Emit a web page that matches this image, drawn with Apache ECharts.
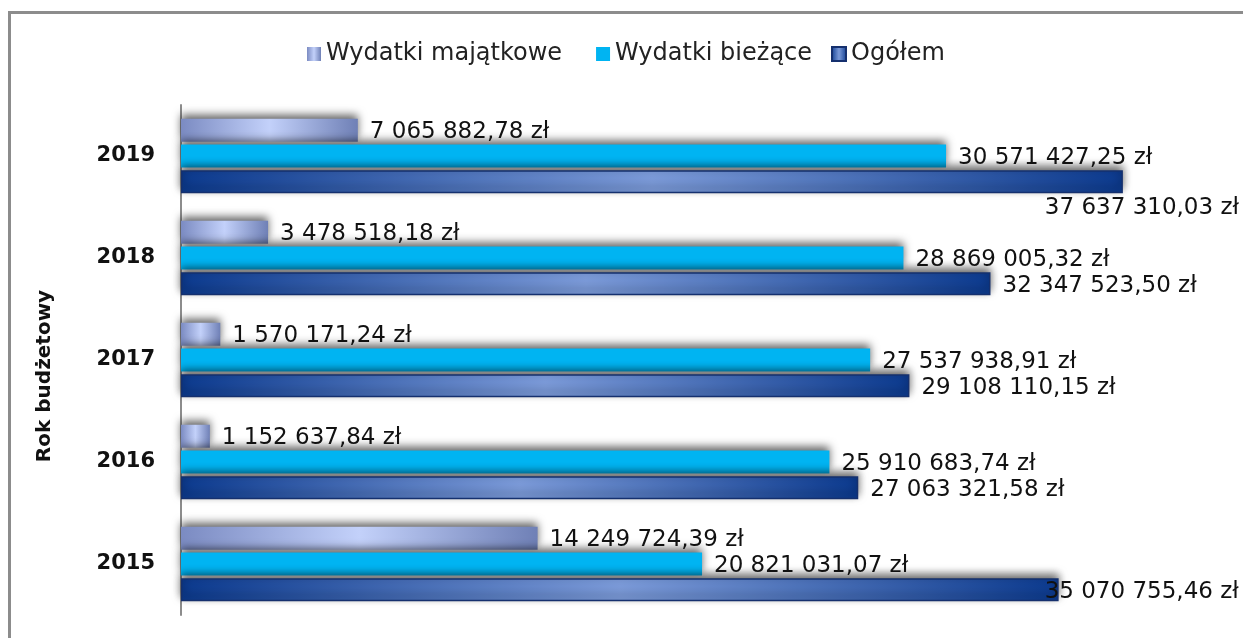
<!DOCTYPE html>
<html>
<head>
<meta charset="utf-8">
<script src="https://cdn.jsdelivr.net/npm/echarts@6/dist/echarts.min.js"></script>
<style>
  html, body { margin: 0; padding: 0; background: #fff; }
  #chart { width: 1243px; height: 638px; }
</style>
</head>
<body>
<div id="chart"></div>
<script>
// Data
const years = ['2015', '2016', '2017', '2018', '2019'];
const majatkowe = [14249724.39, 1152637.84, 1570171.24, 3478518.18, 7065882.78];
const biezace = [20821031.07, 25910683.74, 27537938.91, 28869005.32, 30571427.25];
const ogolem = [35070755.46, 27063321.58, 29108110.15, 32347523.50, 37637310.03];

const FONT = 'DejaVu Sans';

// 12345678.9 -> "12 345 678,90 zł"
function formatZl(v) {
    const parts = v.toFixed(2).split('.');
    const intPart = parts[0].replace(/\B(?=(\d{3})+(?!\d))/g, ' ');
    return intPart + ',' + parts[1] + ' zł';
}

const chart = echarts.init(document.getElementById('chart'));

const labelStyle = {
    show: true,
    position: 'right',
    distance: 12,
    offset: [0, 2],
    color: '#111',
    fontFamily: FONT,
    fontSize: 23,
    formatter: p => formatZl(p.value)
};

const shadow = {
    shadowColor: 'rgba(0, 0, 0, 0.6)',
    shadowBlur: 8,
    shadowOffsetY: -4
};

const majGradient = new echarts.graphic.LinearGradient(0, 0, 1, 0, [
    { offset: 0, color: '#7b8bc2' },
    { offset: 0.5, color: '#c3d1fa' },
    { offset: 1, color: '#6f80b6' }
]);
const ogGradient = new echarts.graphic.LinearGradient(0, 0, 1, 0, [
    { offset: 0, color: '#0c3a8e' },
    { offset: 0.5, color: '#7b9ad8' },
    { offset: 1, color: '#0c3a8e' }
]);

// Ogółem labels near the right edge were pushed inward in the original
const ogolemData = ogolem.map((v, i) => {
    if (i === 4) return { value: v, label: { offset: [-90, 26] } };
    if (i === 0) return { value: v, label: { offset: [-26, 2] } };
    return v;
});

const legendText = { fontFamily: FONT, fontSize: 24, color: '#222' };

const option = {
    animation: false,
    graphic: [{
        type: 'rect',
        shape: { x: 9.5, y: 12.5, width: 1300, height: 700 },
        style: { fill: 'none', stroke: '#8c8c8c', lineWidth: 3 },
        silent: true
    }],
    legend: [
        {
            top: 37,
            left: 302,
            icon: 'rect',
            itemWidth: 14,
            itemHeight: 14,
            itemGap: 34,
            textStyle: legendText,
            data: ['Wydatki majątkowe', 'Wydatki bieżące']
        },
        {
            top: 37,
            left: 826,
            icon: 'rect',
            itemWidth: 14,
            itemHeight: 14,
            textStyle: legendText,
            data: ['Ogółem']
        }
    ],
    grid: { left: 181, right: 61, top: 105, bottom: 23 },
    xAxis: {
        type: 'value',
        min: 0,
        max: 40000000,
        show: false
    },
    yAxis: {
        type: 'category',
        data: years,
        name: 'Rok budżetowy',
        nameLocation: 'middle',
        nameRotate: 90,
        nameGap: 126,
        nameTextStyle: { fontFamily: FONT, fontSize: 20, fontWeight: 'bold', color: '#111', padding: [0, 32, 0, 0] },
        axisLine: { lineStyle: { color: '#8c8c8c', width: 2 } },
        axisTick: { show: false },
        axisLabel: { fontFamily: FONT, fontSize: 21, fontWeight: 'bold', color: '#111', margin: 26 }
    },
    series: [
        {
            name: 'Wydatki majątkowe',
            type: 'bar',
            barWidth: 23,
            barGap: '12%',
            data: majatkowe,
            itemStyle: Object.assign({ color: majGradient }, shadow),
            label: labelStyle
        },
        {
            name: 'Wydatki bieżące',
            type: 'bar',
            barWidth: 23,
            barGap: '12%',
            data: biezace,
            itemStyle: Object.assign({ color: '#00b4f2' }, shadow),
            label: labelStyle
        },
        {
            name: 'Ogółem',
            type: 'bar',
            barWidth: 23,
            barGap: '12%',
            data: ogolemData,
            itemStyle: Object.assign({ color: ogGradient, borderColor: '#15306e', borderWidth: 1.5 }, shadow),
            label: labelStyle
        }
    ]
};

chart.setOption(option);
</script>
</body>
</html>
